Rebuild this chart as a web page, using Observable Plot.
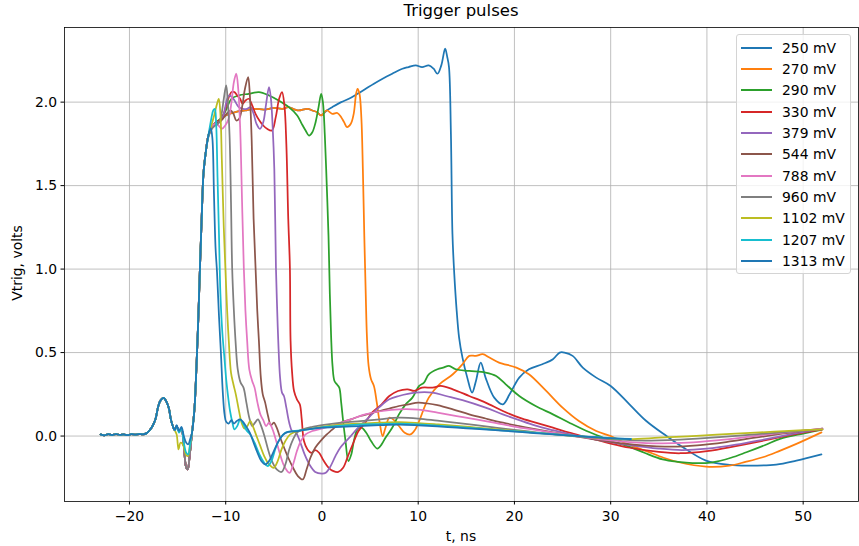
<!DOCTYPE html>
<html>
<head>
<meta charset="utf-8">
<script src="https://cdn.jsdelivr.net/npm/d3@7"></script>
<script src="https://cdn.jsdelivr.net/npm/@observablehq/plot@0.6"></script>
<style>
  body { margin: 0; background: #fff; font-family: "DejaVu Sans", sans-serif; color: #000; }
  #wrap { position: relative; width: 859px; height: 546px; }
  .title { position: absolute; left: 64px; width: 794px; top: 3px; text-align: center; font-size: 16.5px; line-height: 1; }
  .xlabel { position: absolute; left: 64px; width: 794px; top: 530px; text-align: center; font-size: 13.9px; line-height: 1; }
  .ylabel { position: absolute; left: 18px; top: 263px; transform: translate(-50%, -50%) rotate(-90deg); font-size: 13.9px; line-height: 1; white-space: nowrap; }
  .legend { position: absolute; left: 736px; top: 34px; width: 115px; height: 240px; box-sizing: border-box;
            border: 1px solid #d4d4d4; border-radius: 3px; background: rgba(255,255,255,0.8); padding-top: 2px; }
  .row { height: 21.33px; display: flex; align-items: center; font-size: 13.9px; }
  .swatch { width: 31px; height: 0; border-top: 2px solid; margin-left: 4px; margin-right: 10px; }
</style>
</head>
<body>
<div id="wrap">
  <div class="title">Trigger pulses</div>
  <div class="xlabel">t, ns</div>
  <div class="ylabel">Vtrig, volts</div>
  <div id="chart"></div>
  <div class="legend" id="legend"></div>
</div>
<script>
// Tick values
const xTicks = [-20, -10, 0, 10, 20, 30, 40, 50];
const yTicks = [0, 0.5, 1.0, 1.5, 2.0];

// Trace pieces: [t (ns), Vtrig (V)]
// Common pre-pulse, identical on every trace
const lead = [[-23.0,0.010],[-22.6,0.004],[-22.2,0.011],[-21.8,0.006],[-21.4,0.012],[-21.0,0.007],[-20.6,0.010],[-20.2,0.005],[-19.8,0.011],[-19.4,0.008],[-19.0,0.012],[-18.6,0.010],[-18.25,0.016],[-17.9,0.035],[-17.6,0.06],[-17.3,0.10],[-17.0,0.18],[-16.75,0.215],[-16.45,0.228],[-16.15,0.205],[-15.9,0.165],[-15.7,0.10],[-15.5,0.06],[-15.3,0.035]];

// Undershoot before the leading edge
const dipDeep = [[-15.1,0.06],[-14.85,0.03],[-14.6,0.04],[-14.35,-0.06],[-14.1,-0.19],[-13.95,-0.2],[-13.75,-0.12]];
const dipShallow = [[-15.1,0.065],[-14.85,0.03],[-14.6,0.055],[-14.35,0.0],[-14.1,-0.04],[-13.9,-0.05],[-13.7,-0.02]];
const dipMid = [[-15.1,0.06],[-14.85,0.02],[-14.6,0.045],[-14.35,-0.04],[-14.1,-0.1],[-13.9,-0.11],[-13.7,-0.05]];
const dipEarly = [[-15.1,0.01],[-14.9,-0.08],[-14.7,-0.04],[-14.45,-0.05],[-14.15,-0.11],[-13.95,-0.12],[-13.7,-0.05]];

// Common leading edge
const rise = [[-13.5,0.02],[-13.25,0.16],[-13.05,0.4],[-12.85,0.7],[-12.68,1.0],[-12.5,1.3],[-12.3,1.58],[-12.05,1.71]];

// Shared flat top of the two lowest thresholds, before they separate
const flatTop = [[-11.8,1.8],[-11.4,1.85],[-11.0,1.88],[-10.5,1.9],[-10.0,1.92],[-9.0,1.94],[-8.0,1.95],[-7.0,1.96],[-6.0,1.955],[-5.0,1.965],[-4.1,1.96],[-3.5,1.97],[-2.8,1.955],[-2.4,1.95],[-1.5,1.96],[-1.0,1.95],[-0.5,1.94],[-0.1,1.92]];

// Per-threshold plateau, trailing edge and tail
const t250 = [[0.5,1.95],[1.07,1.97],[2.0,2.0],[2.8,2.02],[3.7,2.05],[4.55,2.08],[5.4,2.11],[6.3,2.14],[7.3,2.17],[8.36,2.2],[9.0,2.21],[9.75,2.22],[10.4,2.21],[11.1,2.22],[11.6,2.2],[12.0,2.17],[12.4,2.22],[12.8,2.32],[13.02,2.27],[13.2,2.21],[13.4,1.81],[13.56,1.21],[13.75,0.97],[14.0,0.75],[14.25,0.59],[14.6,0.47],[15.1,0.35],[15.6,0.26],[16.0,0.33],[16.5,0.44],[17.0,0.35],[17.9,0.23],[18.8,0.19],[19.5,0.25],[20.5,0.35],[21.5,0.4],[22.9,0.43],[24.0,0.46],[24.7,0.5],[25.2,0.5],[26.05,0.48],[27.1,0.41],[28.5,0.35],[30.0,0.3],[31.95,0.19],[33.7,0.09],[35.8,0.0],[37.5,-0.067],[39.9,-0.147],[42.35,-0.173],[44.4,-0.177],[47.2,-0.171],[49.3,-0.147],[51.9,-0.11]];

const t270 = [[0.5,1.95],[1.07,1.93],[1.6,1.935],[2.0,1.91],[2.3,1.88],[2.6,1.85],[3.0,1.87],[3.3,1.93],[3.55,2.05],[3.7,2.08],[3.9,2.05],[4.1,1.9],[4.25,1.6],[4.4,1.2],[4.55,0.85],[4.67,0.6],[4.85,0.42],[5.1,0.34],[5.4,0.3],[5.7,0.2],[6.0,0.08],[6.3,0.0],[6.6,0.05],[7.0,0.11],[7.4,0.1],[8.0,0.06],[8.6,0.02],[9.2,0.01],[9.7,0.04],[10.1,0.09],[11.1,0.23],[12.2,0.31],[13.6,0.37],[14.6,0.43],[15.3,0.48],[16.0,0.48],[16.7,0.49],[17.4,0.47],[18.4,0.44],[20.2,0.41],[21.5,0.37],[23.3,0.27],[25.0,0.17],[26.7,0.09],[28.5,0.03],[30.0,0.0],[31.8,-0.05],[33.7,-0.09],[35.5,-0.13],[37.1,-0.157],[39.9,-0.183],[42.35,-0.177],[44.0,-0.155],[45.8,-0.127],[47.5,-0.09],[49.3,-0.047],[51.9,0.022]];

const t290 = [[-11.8,1.8],[-11.4,1.85],[-11.0,1.88],[-10.5,1.9],[-10.0,1.95],[-9.4,2.02],[-8.64,2.04],[-7.6,2.05],[-6.55,2.06],[-5.5,2.04],[-4.5,2.01],[-3.44,1.97],[-2.57,1.92],[-2.1,1.87],[-1.7,1.83],[-1.35,1.8],[-1.0,1.82],[-0.66,1.88],[-0.35,1.97],[-0.08,2.05],[0.1,2.0],[0.3,1.8],[0.5,1.5],[0.68,1.2],[0.82,0.85],[0.95,0.6],[1.1,0.42],[1.3,0.33],[1.55,0.31],[1.8,0.29],[2.0,0.2],[2.2,0.09],[2.45,-0.03],[2.75,-0.15],[3.05,-0.11],[3.35,-0.02],[3.7,0.04],[4.1,0.05],[4.6,0.02],[5.1,-0.03],[5.75,-0.075],[6.2,-0.05],[6.6,-0.01],[7.3,0.05],[8.0,0.13],[8.7,0.19],[9.4,0.23],[10.1,0.3],[10.6,0.32],[11.1,0.37],[12.0,0.4],[12.6,0.41],[13.2,0.42],[13.9,0.4],[15.3,0.39],[17.0,0.38],[18.1,0.36],[19.1,0.31],[20.5,0.24],[22.2,0.18],[24.0,0.13],[25.7,0.08],[27.5,0.03],[28.8,0.0],[30.0,-0.03],[31.9,-0.063],[33.5,-0.1],[35.4,-0.14],[37.0,-0.155],[38.5,-0.162],[40.6,-0.157],[42.5,-0.13],[44.1,-0.097],[46.0,-0.055],[47.6,-0.017],[50.0,0.015],[51.9,0.037]];

const t330 = [[-11.8,1.8],[-11.4,1.85],[-11.0,1.88],[-10.6,1.89],[-10.2,1.93],[-9.8,2.01],[-9.4,2.06],[-9.1,2.06],[-8.8,2.04],[-8.5,2.02],[-8.25,1.99],[-7.95,2.01],[-7.6,2.02],[-7.25,1.98],[-6.9,1.93],[-6.5,1.89],[-6.1,1.86],[-5.7,1.84],[-5.2,1.83],[-4.8,1.91],[-4.45,2.02],[-4.15,2.06],[-3.9,1.98],[-3.7,1.75],[-3.5,1.3],[-3.33,1.01],[-3.26,0.57],[-3.1,0.38],[-2.9,0.27],[-2.6,0.22],[-2.3,0.19],[-2.1,0.1],[-1.87,-0.03],[-1.5,-0.08],[-1.1,-0.1],[-0.7,-0.085],[-0.3,-0.1],[0.2,-0.15],[0.7,-0.19],[1.2,-0.21],[1.7,-0.215],[2.2,-0.19],[2.7,-0.12],[3.2,-0.05],[3.8,0.03],[4.5,0.08],[5.2,0.14],[6.2,0.19],[7.0,0.24],[7.9,0.27],[8.9,0.28],[9.6,0.27],[10.4,0.29],[11.5,0.29],[12.35,0.3],[13.6,0.28],[15.3,0.24],[17.0,0.2],[18.8,0.15],[20.5,0.11],[22.2,0.08],[24.0,0.05],[25.7,0.02],[27.5,-0.007],[30.0,-0.045],[32.0,-0.07],[35.0,-0.095],[37.2,-0.103],[40.0,-0.09],[43.0,-0.06],[46.0,-0.026],[49.0,0.01],[52.0,0.04]];

const t379 = [[-11.8,1.8],[-11.4,1.85],[-11.0,1.88],[-10.6,1.88],[-10.2,1.93],[-9.9,2.01],[-9.65,2.04],[-9.2,2.02],[-8.65,1.97],[-8.2,1.96],[-7.8,1.96],[-7.42,1.97],[-7.1,1.93],[-6.8,1.87],[-6.45,1.84],[-6.1,1.88],[-5.8,1.99],[-5.5,2.09],[-5.3,2.02],[-5.12,1.85],[-4.95,1.6],[-4.78,1.01],[-4.66,0.77],[-4.54,0.57],[-4.35,0.35],[-4.15,0.26],[-3.95,0.24],[-3.7,0.17],[-3.4,0.08],[-3.1,0.03],[-2.7,0.02],[-2.3,-0.03],[-1.8,-0.11],[-1.3,-0.17],[-0.7,-0.215],[0.0,-0.225],[0.4,-0.22],[0.9,-0.18],[1.4,-0.12],[1.9,-0.07],[2.5,-0.03],[3.0,0.0],[3.6,0.04],[4.3,0.08],[5.0,0.12],[5.9,0.17],[7.0,0.22],[8.0,0.24],[9.7,0.26],[11.5,0.26],[12.9,0.24],[14.6,0.215],[17.0,0.17],[18.8,0.13],[20.5,0.095],[22.2,0.062],[24.0,0.035],[25.7,0.012],[28.0,-0.015],[30.0,-0.036],[32.0,-0.054],[35.0,-0.075],[37.4,-0.084],[40.0,-0.076],[43.0,-0.052],[46.0,-0.02],[49.0,0.014],[52.0,0.045]];

const t544 = [[-11.8,1.8],[-11.45,1.85],[-11.1,1.87],[-10.7,1.88],[-10.3,1.9],[-9.9,1.93],[-9.5,1.95],[-9.2,1.93],[-8.9,1.89],[-8.6,1.9],[-8.3,1.97],[-8.0,2.08],[-7.67,2.15],[-7.5,2.05],[-7.3,1.77],[-7.1,1.3],[-6.9,1.01],[-6.72,0.75],[-6.55,0.57],[-6.35,0.35],[-6.15,0.25],[-5.9,0.2],[-5.6,0.12],[-5.3,0.065],[-5.0,0.08],[-4.7,0.05],[-4.4,0.0],[-4.0,-0.06],[-3.5,-0.13],[-3.0,-0.19],[-2.5,-0.24],[-2.0,-0.26],[-1.6,-0.2],[-1.2,-0.13],[-0.7,-0.07],[0.0,-0.02],[0.5,0.01],[1.0,0.035],[1.5,0.06],[2.0,0.08],[3.0,0.1],[4.0,0.12],[5.0,0.135],[6.0,0.15],[7.0,0.165],[8.0,0.18],[9.0,0.19],[10.0,0.2],[11.0,0.195],[12.0,0.185],[13.6,0.16],[15.3,0.13],[17.0,0.105],[18.8,0.08],[20.5,0.06],[22.0,0.043],[24.0,0.022],[26.0,0.003],[28.0,-0.017],[30.0,-0.035],[33.0,-0.055],[36.4,-0.064],[39.0,-0.056],[42.0,-0.036],[45.0,-0.01],[48.0,0.016],[52.0,0.045]];

const t788 = [[-11.8,1.8],[-11.45,1.85],[-11.1,1.87],[-10.75,1.86],[-10.4,1.84],[-10.05,1.86],[-9.7,1.9],[-9.4,2.0],[-9.15,2.12],[-8.9,2.17],[-8.7,2.08],[-8.5,1.85],[-8.3,1.4],[-8.12,1.01],[-7.95,0.75],[-7.77,0.57],[-7.55,0.4],[-7.25,0.33],[-7.0,0.29],[-6.7,0.2],[-6.4,0.13],[-6.1,0.095],[-5.8,0.06],[-5.5,0.08],[-5.2,0.05],[-4.8,-0.02],[-4.4,-0.1],[-4.0,-0.17],[-3.6,-0.21],[-3.35,-0.22],[-3.0,-0.17],[-2.6,-0.09],[-2.2,-0.03],[-1.7,0.01],[-1.0,0.03],[0.0,0.045],[1.0,0.06],[2.0,0.08],[3.0,0.1],[4.5,0.13],[6.3,0.15],[8.0,0.16],[10.0,0.158],[12.0,0.14],[14.0,0.12],[16.0,0.1],[18.0,0.079],[20.0,0.057],[22.0,0.038],[24.0,0.02],[26.0,0.003],[28.0,-0.013],[30.0,-0.026],[32.0,-0.036],[35.0,-0.044],[38.0,-0.04],[41.0,-0.026],[44.0,-0.007],[47.0,0.014],[50.0,0.033],[52.0,0.045]];

const t960 = [[-11.8,1.79],[-11.45,1.84],[-11.1,1.86],[-10.8,1.87],[-10.5,1.91],[-10.2,2.02],[-9.95,2.1],[-9.78,2.0],[-9.6,1.8],[-9.45,1.4],[-9.33,1.01],[-9.15,0.75],[-8.98,0.57],[-8.75,0.4],[-8.45,0.32],[-8.15,0.29],[-7.85,0.2],[-7.55,0.11],[-7.25,0.06],[-6.95,0.08],[-6.65,0.1],[-6.35,0.065],[-6.0,0.005],[-5.6,-0.08],[-5.2,-0.15],[-4.7,-0.2],[-4.2,-0.215],[-3.8,-0.17],[-3.4,-0.08],[-3.0,-0.02],[-2.6,0.02],[-2.0,0.04],[-1.0,0.055],[0.0,0.065],[2.0,0.08],[4.0,0.09],[6.0,0.1],[8.0,0.11],[10.0,0.105],[12.0,0.092],[14.0,0.079],[16.0,0.065],[18.0,0.051],[20.0,0.037],[22.0,0.024],[24.0,0.011],[26.0,0.0],[28.0,-0.01],[30.0,-0.018],[32.0,-0.024],[34.0,-0.027],[36.0,-0.025],[39.0,-0.016],[42.0,-0.004],[45.0,0.01],[48.0,0.024],[52.0,0.04]];

const t1102 = [[-11.8,1.8],[-11.5,1.86],[-11.2,1.92],[-10.95,1.98],[-10.72,2.02],[-10.55,1.93],[-10.4,1.65],[-10.2,1.25],[-10.03,1.0],[-9.85,0.75],[-9.68,0.57],[-9.45,0.38],[-9.2,0.31],[-8.95,0.25],[-8.65,0.16],[-8.35,0.08],[-8.05,0.045],[-7.75,0.06],[-7.45,0.09],[-7.15,0.055],[-6.8,0.0],[-6.4,-0.06],[-6.0,-0.12],[-5.5,-0.17],[-5.0,-0.19],[-4.6,-0.15],[-4.2,-0.08],[-3.8,-0.03],[-3.3,0.01],[-2.5,0.03],[-1.0,0.045],[0.0,0.055],[2.0,0.068],[4.0,0.075],[6.0,0.08],[8.0,0.083],[10.0,0.078],[12.0,0.07],[14.0,0.061],[16.0,0.051],[18.0,0.041],[20.0,0.031],[22.0,0.021],[24.0,0.011],[26.0,0.002],[28.0,-0.007],[30.0,-0.014],[32.0,-0.018],[35.0,-0.01],[38.0,-0.002],[41.0,0.008],[44.0,0.017],[47.0,0.026],[50.0,0.035],[52.0,0.04]];

const t1207 = [[-11.8,1.8],[-11.5,1.9],[-11.3,1.95],[-11.13,1.96],[-11.0,1.88],[-10.85,1.55],[-10.7,1.21],[-10.55,0.85],[-10.35,0.62],[-10.15,0.48],[-9.95,0.34],[-9.8,0.26],[-9.55,0.15],[-9.3,0.08],[-9.1,0.04],[-8.8,0.06],[-8.5,0.1],[-8.2,0.075],[-7.85,0.035],[-7.45,0.01],[-7.0,-0.04],[-6.5,-0.11],[-6.0,-0.16],[-5.65,-0.18],[-5.25,-0.15],[-4.8,-0.07],[-4.4,-0.02],[-3.8,0.02],[-3.0,0.03],[-2.0,0.035],[0.0,0.052],[2.0,0.062],[4.0,0.07],[6.0,0.072],[8.0,0.074],[10.0,0.07],[12.0,0.062],[14.0,0.055],[16.0,0.046],[18.0,0.037],[20.0,0.029],[22.0,0.02],[24.0,0.011],[26.0,0.003],[28.0,-0.005],[30.0,-0.012],[32.1,-0.017]];

const t1313 = [[-11.8,1.8],[-11.55,1.845],[-11.38,1.78],[-11.22,1.45],[-11.05,1.12],[-10.9,0.98],[-10.7,0.72],[-10.5,0.5],[-10.3,0.26],[-10.12,0.13],[-9.95,0.085],[-9.7,0.075],[-9.4,0.095],[-9.15,0.075],[-8.85,0.09],[-8.5,0.1],[-8.2,0.085],[-7.9,0.06],[-7.5,0.02],[-7.1,-0.04],[-6.7,-0.1],[-6.3,-0.15],[-5.9,-0.17],[-5.5,-0.15],[-5.0,-0.09],[-4.5,-0.03],[-4.0,0.01],[-3.5,0.025],[-2.5,0.03],[-1.5,0.04],[0.0,0.05],[2.0,0.055],[4.0,0.06],[6.0,0.065],[8.0,0.068],[10.0,0.064],[12.0,0.058],[14.0,0.05],[16.0,0.043],[18.0,0.035],[20.0,0.027],[22.0,0.018],[24.0,0.01],[26.0,0.002],[28.0,-0.006],[30.0,-0.013],[32.1,-0.018]];

// Threshold labels and line colours, in plotting order
const labels = ["250 mV","270 mV","290 mV","330 mV","379 mV","544 mV","788 mV","960 mV","1102 mV","1207 mV","1313 mV"];
const colors = ["#1f77b4","#ff7f0e","#2ca02c","#d62728","#9467bd","#8c564b","#e377c2","#7f7f7f","#bcbd22","#17becf","#1f77b4"];

const traces = [
  [...lead, ...dipDeep, ...rise, ...flatTop, ...t250],
  [...lead, ...dipDeep, ...rise, ...flatTop, ...t270],
  [...lead, ...dipDeep, ...rise, ...t290],
  [...lead, ...dipDeep, ...rise, ...t330],
  [...lead, ...dipDeep, ...rise, ...t379],
  [...lead, ...dipDeep, ...rise, ...t544],
  [...lead, ...dipDeep, ...rise, ...t788],
  [...lead, ...dipDeep, ...rise, ...t960],
  [...lead, ...dipEarly, ...rise, ...t1102],
  [...lead, ...dipMid, ...rise, ...t1207],
  [...lead, ...dipShallow, ...rise, ...t1313]
];

const fmtX = d => d < 0 ? "\u2212" + Math.abs(d) : String(d);

const chart = Plot.plot({
  width: 859,
  height: 546,
  marginLeft: 64,
  marginRight: 1,
  marginTop: 27,
  marginBottom: 45,
  style: { fontFamily: "DejaVu Sans, sans-serif", fontSize: "13.9px", background: "white", color: "black" },
  x: { domain: [-26.75, 55.75] },
  y: { domain: [-0.392, 2.447] },
  marks: [
    Plot.gridX(xTicks, { stroke: "#b0b0b0", strokeOpacity: 1, strokeWidth: 0.8 }),
    Plot.gridY(yTicks, { stroke: "#b0b0b0", strokeOpacity: 1, strokeWidth: 0.8 }),
    ...traces.map((pts, i) => Plot.line(pts, {
      x: d => d[0], y: d => d[1],
      stroke: colors[i], strokeWidth: 1.75, curve: "catmull-rom"
    })),
    Plot.frame({ stroke: "#000", strokeWidth: 0.8 }),
    Plot.axisX(xTicks, { tickSize: 3.5, tickPadding: 6, tickFormat: fmtX, label: null }),
    Plot.axisY(yTicks, { tickSize: 3.5, tickPadding: 4, tickFormat: d3.format(".1f"), label: null })
  ]
});
document.getElementById("chart").appendChild(chart);

// Legend
const legend = document.getElementById("legend");
labels.forEach((lab, i) => {
  const row = document.createElement("div");
  row.className = "row";
  const sw = document.createElement("span");
  sw.className = "swatch";
  sw.style.borderTopColor = colors[i];
  const tx = document.createElement("span");
  tx.textContent = lab;
  row.appendChild(sw);
  row.appendChild(tx);
  legend.appendChild(row);
});
</script>
</body>
</html>
